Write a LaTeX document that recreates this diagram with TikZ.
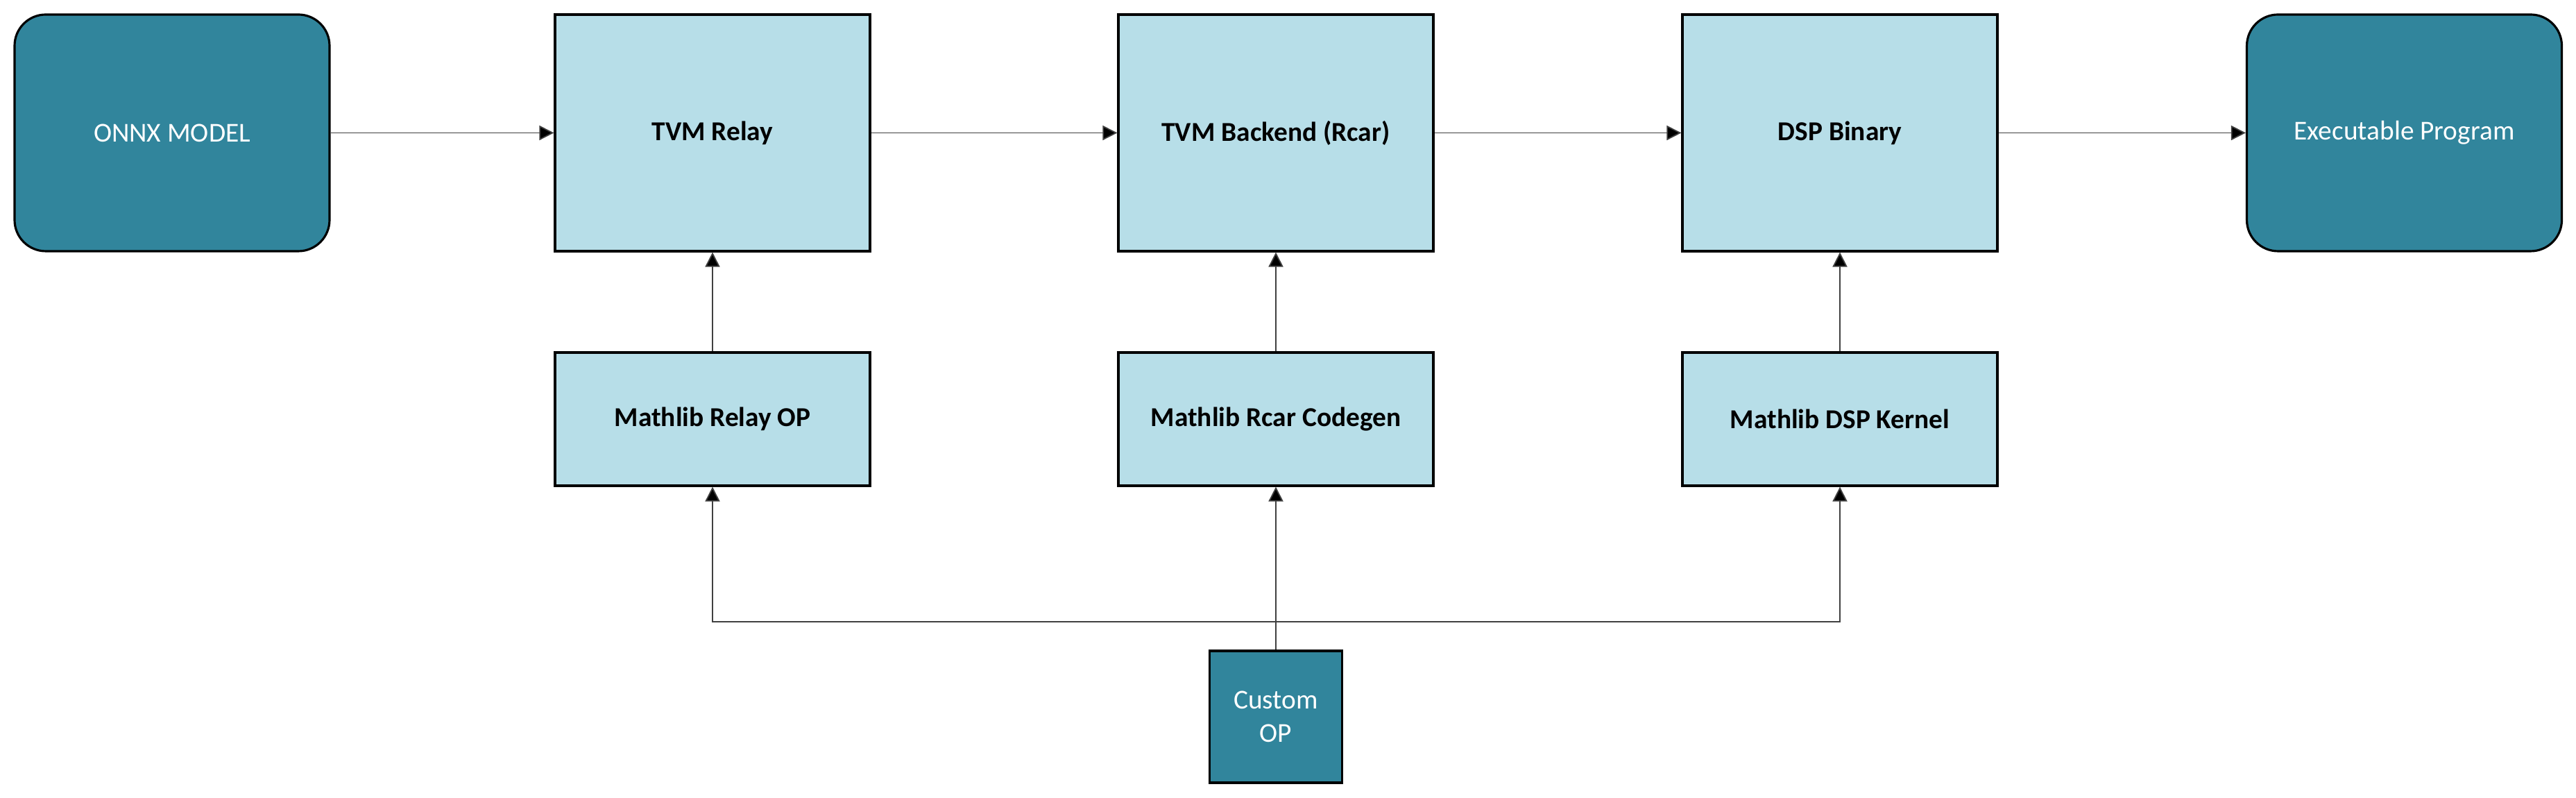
\documentclass[tikz,border=0pt]{standalone}
\usepackage{xcolor}
\usepackage{fontspec}
\setmainfont{Carlito}
\usepackage{tikz}
\usetikzlibrary{arrows.meta}

\definecolor{lightbox}{HTML}{B7DEE8}
\definecolor{darkbox}{HTML}{31859C}

\begin{document}
\begin{tikzpicture}[auto,
  box/.style = {draw,line width=0.9pt,fill=lightbox,font=\bfseries,
        inner sep=0pt,align=center,minimum width=4.54cm},
  bigbox/.style = {box,minimum height=3.41cm},
  libbox/.style = {box,minimum height=1.92cm},
  endbox/.style = {draw,line width=0.9pt,fill=darkbox,text=white,
        rounded corners=0.45cm,inner sep=0pt,align=center,
        minimum width=4.54cm,minimum height=3.41cm},
  opbox/.style = {draw,line width=0.9pt,fill=darkbox,text=white,
        inner sep=0pt,align=center,minimum width=1.91cm,minimum height=1.90cm},
  link/.style = {draw=black!75,line width=0.5pt,
        -{Triangle[length=0.21cm,width=0.21cm,fill=black]}}]
 \fontsize{11.2}{13.8}\selectfont
 \useasboundingbox (0,0) rectangle (37.13,11.5);

 \node[endbox] (onnx)    at(2.48,9.585)   {ONNX MODEL};
 \node[bigbox] (relay)   at(10.27,9.585)  {TVM Relay};
 \node[bigbox] (backend) at(18.39,9.585)  {TVM Backend (Rcar)};
 \node[bigbox] (binary)  at(26.52,9.585)  {DSP Binary};
 \node[endbox] (exe)     at(34.655,9.585) {Executable Program};

 \node[libbox] (mrelay)  at(10.27,5.46)   {Mathlib Relay OP};
 \node[libbox] (mcodegen) at(18.39,5.46)  {Mathlib Rcar Codegen};
 \node[libbox] (mkernel) at(26.52,5.46)   {Mathlib DSP Kernel};

 \node[opbox] (custom)   at(18.39,1.17)   {Custom\\OP};

 \coordinate (split) at (18.39,2.54);

 \path[link] (onnx) -- (relay);
 \path[link] (relay) -- (backend);
 \path[link] (backend) -- (binary);
 \path[link] (binary) -- (exe);

 \path[link] (mrelay) -- (relay);
 \path[link] (mcodegen) -- (backend);
 \path[link] (mkernel) -- (binary);

 \path[link] (custom) -- (mcodegen);
 \path[link] (split) -| (mrelay);
 \path[link] (split) -| (mkernel);
\end{tikzpicture}
\end{document}
